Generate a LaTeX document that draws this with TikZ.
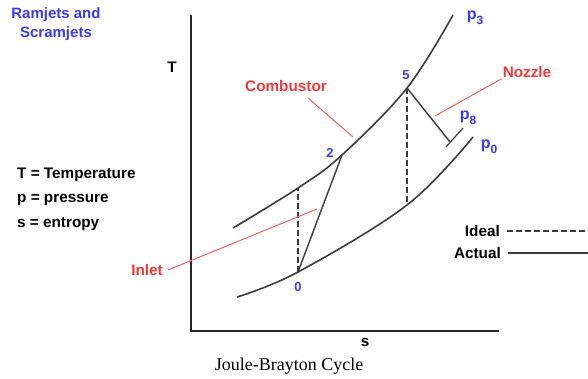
\documentclass[tikz,border=0pt]{standalone}
\usepackage{fontspec}
\setmainfont{Liberation Serif}
\setsansfont{Liberation Sans}
\usetikzlibrary{positioning,calc}
\definecolor{stateblue}{HTML}{3A3AF0}
\definecolor{partred}{HTML}{F03A3A}
\definecolor{curvegray}{HTML}{3C3C3C}
\newcommand{\psub}[1]{p\raisebox{-5pt}{\fontsize{12}{12}\selectfont #1}}

\begin{document}
\begin{tikzpicture}[x=1pt,y=-1pt,font=\sffamily\bfseries\fontsize{15.3}{17}\selectfont,
axis/.style={line width=2.6pt,draw=black!85},
isobar/.style={line width=1.6pt,draw=curvegray},
process/.style={line width=1.4pt,draw=curvegray},
ideal/.style={line width=1.3pt,draw=curvegray,dash pattern=on 6pt off 3pt},
pointer/.style={line width=1pt,draw=partred!80},
partlabel/.style={text=partred,inner sep=1pt},
statelabel/.style={text=stateblue,inner sep=1pt,font=\sffamily\bfseries\fontsize{13}{15}\selectfont},
plabel/.style={text=stateblue,inner sep=1pt,font=\sffamily\bfseries\fontsize{16}{17}\selectfont},
keytext/.style={inner sep=1pt,anchor=west}]
\useasboundingbox (0,0) rectangle (588,379);
% axes
\coordinate (origin) at (191,331);
\draw[axis] (191,15) -- (origin) -- (499,331);
\node (Taxis) at (172,67) {T};
\node (saxis) at (365,342) {s};
% state points
\coordinate (s0) at (298,272);
\coordinate (s2) at (342,155);
\coordinate (s5) at (407,88);
\coordinate (s2i) at (298,188);
\coordinate (s8i) at (407,205);
\coordinate (s8) at (450,142);
% isobars
\draw[isobar] plot[smooth,tension=0.6] coordinates {(233,228) (s2i) (s2) (s5) (453,15)};
\draw[isobar] plot[smooth,tension=0.6] coordinates {(237,297) (s0) (s8i) (473,137)};
\draw[isobar,line width=1.2pt] (446,147) -- (463,128);
% processes
\draw[process] (s0) -- (s2);
\draw[process] (s5) -- (s8);
\draw[ideal] (s0) -- (s2i);
\draw[ideal] (s5) -- (s8i);
% state and pressure labels
\node[statelabel] (n0) at (298,287) {0};
\node[statelabel] (n2) at (330,153) {2};
\node[statelabel] (n5) at (406,75) {5};
\node[plabel] (p3) at (475,18) {\psub{3}};
\node[plabel] (p8) at (468,118) {\psub{8}};
\node[plabel] (p0) at (489,147) {\psub{0}};
% components
\node[partlabel] (comb) at (286,86) {Combustor};
\node[partlabel] (nozz) at (527,72) {Nozzle};
\node[partlabel] (inlet) at (147,270) {Inlet};
\coordinate (combstart) at (308,98);
\coordinate (combend) at (353,137);
\coordinate (nozzend) at (435,116);
\coordinate (inletend) at (317,209);
\draw[pointer] (combstart) -- (combend);
\draw[pointer] (nozz.south west) -- (nozzend);
\draw[pointer] ([xshift=4pt]inlet.east) -- (inletend);
% title and key
\node[text=stateblue,align=center,font=\sffamily\bfseries\fontsize{15}{19}\selectfont] (title) at (56,24) {Ramjets and\\Scramjets};
\node[keytext] (keyT) at (16,175) {T = Temperature};
\node[keytext] (keyp) at (16,200) {p = pressure};
\node[keytext] (keys) at (16,224) {s = entropy};
\node[inner sep=1pt,anchor=east] (ideal) at (501,231) {Ideal};
\node[inner sep=1pt,anchor=east] (actual) at (502,253) {Actual};
\coordinate (idealend) at (588,231);
\coordinate (actualend) at (588,253);
\draw[ideal] ([xshift=6pt]ideal.east) -- (idealend);
\draw[process] ([xshift=6pt]actual.east) -- (actualend);
\node[font=\rmfamily\fontsize{18}{20}\selectfont] (caption) at (289,366) {Joule-Brayton Cycle};
\end{tikzpicture}
\end{document}
